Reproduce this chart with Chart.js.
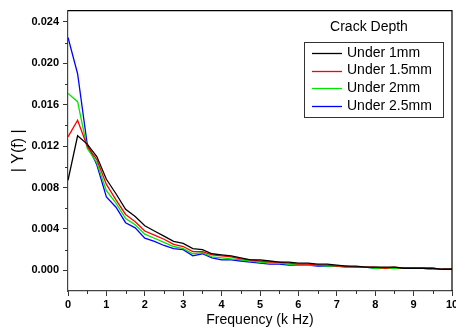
<!DOCTYPE html>
<html>
<head>
<meta charset="utf-8">
<script src="https://cdn.jsdelivr.net/npm/chart.js@4/dist/chart.umd.min.js"></script>
<style>
  html, body { margin: 0; padding: 0; background: #fff; }
  #wrap { width: 456px; height: 329px; }
</style>
</head>
<body>
<div id="wrap"><canvas id="myChart" width="456" height="329"></canvas></div>
<script>
// Datos
const frecuencias = [0, 0.25, 0.5, 0.75, 1, 1.25, 1.5, 1.75, 2, 2.25, 2.5, 2.75, 3, 3.25, 3.5, 3.75, 4, 4.25, 4.5, 4.75, 5, 5.25, 5.5, 5.75, 6, 6.25, 6.5, 6.75, 7, 7.25, 7.5, 7.75, 8, 8.25, 8.5, 8.75, 9, 9.25, 9.5, 9.75, 10]
const under1mm = [0.0087, 0.0130, 0.0122, 0.0110, 0.0088, 0.0074, 0.0059, 0.0052, 0.0043, 0.0038, 0.0033, 0.0028, 0.0026, 0.0021, 0.0020, 0.0016, 0.0015, 0.0014, 0.0012, 0.0010, 0.0010, 0.0009, 0.0008, 0.0008, 0.0007, 0.0007, 0.0006, 0.0006, 0.0005, 0.0004, 0.0004, 0.0003, 0.0003, 0.0003, 0.0003, 0.0002, 0.0002, 0.0002, 0.0002, 0.0001, 0.0001]
const under15mm = [0.0129, 0.0145, 0.0120, 0.0107, 0.0083, 0.0068, 0.0054, 0.0047, 0.0038, 0.0034, 0.0030, 0.0025, 0.0023, 0.0018, 0.0018, 0.0015, 0.0014, 0.0013, 0.0011, 0.0010, 0.0009, 0.0008, 0.0008, 0.0007, 0.0006, 0.0006, 0.0005, 0.0005, 0.0004, 0.0004, 0.0003, 0.0003, 0.0003, 0.0002, 0.0003, 0.0002, 0.0002, 0.0002, 0.0002, 0.0001, 0.0001]
const under2mm = [0.0171, 0.0163, 0.0118, 0.0104, 0.0077, 0.0065, 0.0050, 0.0044, 0.0035, 0.0031, 0.0027, 0.0023, 0.0021, 0.0016, 0.0017, 0.0013, 0.0012, 0.0011, 0.0010, 0.0009, 0.0008, 0.0007, 0.0007, 0.0006, 0.0005, 0.0005, 0.0005, 0.0004, 0.0004, 0.0003, 0.0003, 0.0003, 0.0002, 0.0002, 0.0002, 0.0002, 0.0002, 0.0002, 0.0001, 0.0001, 0.0001]
const under25mm = [0.0225, 0.0190, 0.0122, 0.0102, 0.0071, 0.0061, 0.0046, 0.0041, 0.0031, 0.0028, 0.0024, 0.0021, 0.0020, 0.0014, 0.0016, 0.0012, 0.0010, 0.0010, 0.0009, 0.0008, 0.0007, 0.0006, 0.0006, 0.0005, 0.0005, 0.0005, 0.0004, 0.0004, 0.0004, 0.0003, 0.0003, 0.0003, 0.0002, 0.0002, 0.0002, 0.0002, 0.0002, 0.0002, 0.0001, 0.0001, 0.0001]
const etiquetas = ["Under 1mm", "Under 1.5mm", "Under 2mm", "Under 2.5mm"]
const colores = ["#000000", "#ff0000", "#00e600", "#0000ff"]
const ticksX = [0, 1, 2, 3, 4, 5, 6, 7, 8, 9, 10]
const ticksY = [0, 0.004, 0.008, 0.012, 0.016, 0.020, 0.024]
const minorX = [0.5, 1.5, 2.5, 3.5, 4.5, 5.5, 6.5, 7.5, 8.5, 9.5]
const minorY = [0.002, 0.006, 0.010, 0.014, 0.018, 0.022]

const fuente = "Arial, 'Liberation Sans', sans-serif"

function armarSerie(valores) {
    return frecuencias.map((f, i) => ({ x: f, y: valores[i] }))
}

// marco, ticks menores y leyenda
const pluginExtras = {
    id: "extras",
    afterDraw(chart) {
        const ctx = chart.ctx
        const area = chart.chartArea
        const sx = chart.scales.x
        const sy = chart.scales.y
        ctx.save()
        ctx.strokeStyle = "#000"
        ctx.lineWidth = 1.2
        ctx.beginPath()
        ctx.moveTo(area.left, area.top)
        ctx.lineTo(area.right, area.top)
        ctx.lineTo(area.right, area.bottom)
        ctx.stroke()
        ctx.strokeStyle = "#333"
        ctx.lineWidth = 1
        ctx.beginPath()
        for (const v of minorX) {
            const px = Math.round(sx.getPixelForValue(v)) + 0.5
            ctx.moveTo(px, area.bottom)
            ctx.lineTo(px, area.bottom + 3)
        }
        for (const v of minorY) {
            const py = Math.round(sy.getPixelForValue(v)) + 0.5
            ctx.moveTo(area.left, py)
            ctx.lineTo(area.left - 3, py)
        }
        ctx.stroke()

        // leyenda
        ctx.fillStyle = "#000"
        ctx.font = "14px " + fuente
        ctx.textAlign = "center"
        ctx.textBaseline = "middle"
        ctx.fillText("Crack Depth", 369, 27)
        ctx.strokeStyle = "#333"
        ctx.lineWidth = 1
        ctx.strokeRect(304.5, 42.5, 139, 75)
        ctx.textAlign = "left"
        chart.data.datasets.forEach((ds, i) => {
            const y = 53 + i * 17.6
            ctx.strokeStyle = ds.borderColor
            ctx.lineWidth = 1.3
            ctx.beginPath()
            ctx.moveTo(312, Math.round(y) + 0.5)
            ctx.lineTo(342, Math.round(y) + 0.5)
            ctx.stroke()
            ctx.fillStyle = "#000"
            ctx.fillText(ds.label, 347, y)
        })
        ctx.restore()
    }
}

const config = {
    type: "line",
    data: {
        datasets: [under1mm, under15mm, under2mm, under25mm].map((valores, i) => ({
            label: etiquetas[i],
            data: armarSerie(valores),
            borderColor: colores[i],
            backgroundColor: colores[i],
            borderWidth: 1.3,
            pointRadius: 0,
            tension: 0,
            fill: false
        }))
    },
    options: {
        responsive: false,
        animation: false,
        layout: { padding: { top: 7, right: 4, left: 0, bottom: 0 } },
        plugins: { legend: { display: false }, tooltip: { enabled: false } },
        scales: {
            x: {
                type: "linear",
                min: 0,
                max: 10,
                afterBuildTicks: (scale) => { scale.ticks = ticksX.map(v => ({ value: v })) },
                afterFit: (scale) => {
                    scale.height = 38
                    scale.paddingRight = 0
                    scale.paddingLeft = 0
                },
                ticks: {
                    color: "#000",
                    font: { family: fuente, size: 11, weight: "bold" },
                    padding: 2,
                    maxRotation: 0,
                    callback: (v) => String(v)
                },
                grid: { drawOnChartArea: false, tickLength: 5, tickColor: "#333" },
                border: { color: "#444", width: 1.2 },
                title: {
                    display: true,
                    text: "Frequency (k Hz)",
                    color: "#000",
                    font: { family: fuente, size: 14 },
                    padding: { top: 4, bottom: 0 }
                }
            },
            y: {
                type: "linear",
                min: -0.002,
                max: 0.0251,
                afterBuildTicks: (scale) => { scale.ticks = ticksY.map(v => ({ value: v })) },
                afterFit: (scale) => { scale.width = 68 },
                ticks: {
                    color: "#000",
                    font: { family: fuente, size: 11, weight: "bold" },
                    padding: 4,
                    callback: (v) => Number(v).toFixed(3)
                },
                grid: { drawOnChartArea: false, tickLength: 5, tickColor: "#333" },
                border: { color: "#444", width: 1.2 },
                title: {
                    display: true,
                    text: "| Y(f) |",
                    color: "#000",
                    font: { family: fuente, size: 16 },
                    padding: { top: 9, bottom: 0 }
                }
            }
        }
    },
    plugins: [pluginExtras]
}

const myChart = new Chart(document.querySelector("#myChart").getContext("2d"), config)
</script>
</body>
</html>
